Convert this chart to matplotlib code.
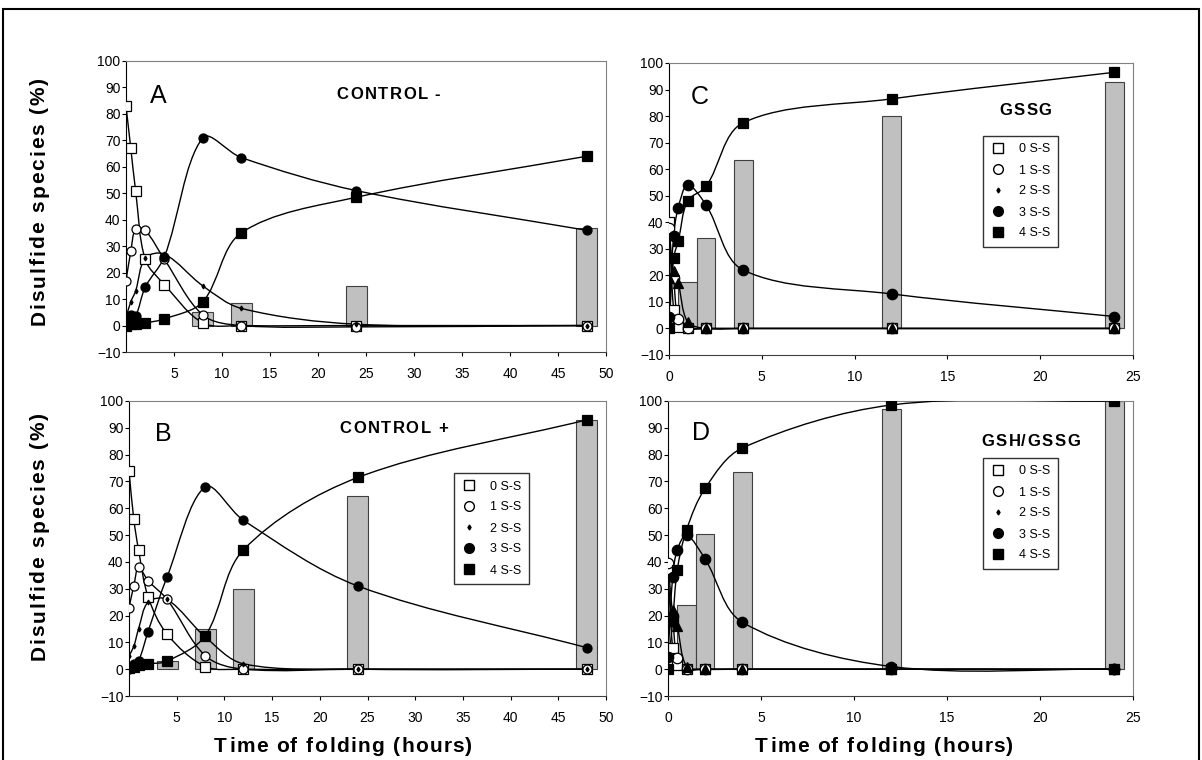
import numpy as np
import matplotlib
matplotlib.use('Agg')
import matplotlib.pyplot as plt
from matplotlib.path import Path
from matplotlib.patches import PathPatch, Rectangle
from matplotlib.lines import Line2D
from matplotlib.font_manager import FontProperties, findfont, get_font

plt.rcParams['font.family'] = ['Liberation Sans', 'DejaVu Sans']

# time points (hours)
t48 = [0, 0.5, 1, 2, 4, 8, 12, 24, 48]
t24 = [0, 0.25, 0.5, 1, 2, 4, 12, 24]

# panel A - control -
a_0ss = [83, 67, 51, 25, 15.5, 1, 0, 0, 0]
a_1ss = [17, 28, 36.5, 36, 25, 4, 0, -0.5, 0]
a_2ss = [3, 9, 13, 25.5, 27, 15, 6.5, 0.5, 0]
a_3ss = [0.5, 4, 3.5, 14.5, 26, 71, 63.5, 51, 36]
a_4ss = [0, 0.5, 0.5, 1, 2.5, 9, 35, 48.5, 64]
a_bar_t = [8, 12, 24, 48]
a_bar = [5, 8.5, 15, 37]

# panel B - control +
b_0ss = [74, 56, 44.5, 27, 13, 1, 0, 0, 0]
b_1ss = [23, 31, 38, 33, 26, 5, 0, 0, 0]
b_2ss = [5, 8.5, 15, 25, 26, 12, 2, 0, 0]
b_3ss = [0, 2, 3, 14, 34.5, 68, 55.5, 31, 8]
b_4ss = [0.5, 1, 1.5, 2, 3, 12.5, 44.5, 71.5, 93]
b_bar_t = [4, 8, 12, 24, 48]
b_bar = [3, 15, 30, 64.5, 93]

# panel C - GSSG
c_0ss = [40, 7, 0.5, 0, 0, 0, 0, 0]
c_1ss = [38, 19, 3.5, 0, 0, 0, 0, 0]
c_2ss = [19, 21.5, 17, 2.5, 0, 0, 0, 0]
c_3ss = [4.5, 35, 45.5, 54, 46.5, 22, 13, 4.5]
c_4ss = [0, 26.5, 33, 48, 53.5, 77.5, 86.5, 96.5]
c_bar_t = [1, 2, 4, 12, 24]
c_bar = [17.5, 34, 63.5, 80, 93]

# panel D - GSH/GSSG
d_0ss = [37.5, 8, 1.5, 0, 0, 0, 0, 0]
d_1ss = [39.5, 20, 4, 0, 0, 0, 0, 0]
d_2ss = [20, 22, 16, 1, 0, 0, 0, 0]
d_3ss = [4.5, 34.5, 44.5, 50, 41, 17.5, 1, 0]
d_4ss = [0, 18, 37, 52, 67.5, 82.5, 98.5, 100]
d_bar_t = [1, 2, 4, 12, 24]
d_bar = [24, 50.5, 73.5, 97, 100]

species = ['0 S-S', '1 S-S', '2 S-S', '3 S-S', '4 S-S']

W, H = 1202, 760
fig = plt.figure(figsize=(W/100, H/100), dpi=100)

def box(l, r, t, b):
    return [l/W, 1 - b/H, (r - l)/W, (b - t)/H]

# letter-spaced text, centre given in pixels (y down)
def tracked(xc, yc, s, size, track, rot=0, weight='bold'):
    prop = FontProperties(family='Liberation Sans', weight=weight, size=size)
    font = get_font(findfont(prop))
    font.set_size(size, 100)
    adv, bear = [], []
    for c in s:
        g = font.load_char(ord(c))
        adv.append(g.linearHoriAdvance / 65536)
        bear.append(g.horiBearingX / 64)
    pen = np.concatenate([[0], np.cumsum(adv)[:-1]]) + np.arange(len(s)) * track
    total = sum(adv) + (len(s) - 1) * track
    cap = size * 100 / 72 * 0.716
    for c, p, b in zip(s, pen, bear):
        if c == ' ':
            continue
        d = p + b - total / 2
        if rot == 0:
            x, y = xc + d, yc + cap / 2
        else:
            x, y = xc + cap / 2, yc - d
        fig.text(x/W, 1 - y/H, c, rotation=rot, rotation_mode='anchor', ha='left',
                 va='baseline', fontproperties=prop)

# smoothed line like excel, control points worked out in pixel space
def smooth(ax, x, y, zorder=3):
    p = ax.transData.transform(np.column_stack([x, y]).astype(float))
    n = len(p)
    verts = [p[0]]
    codes = [Path.MOVETO]
    for i in range(n - 1):
        p0 = p[i - 1] if i > 0 else p[i]
        p3 = p[i + 2] if i + 2 < n else p[i + 1]
        d01 = np.hypot(*(p[i] - p0))
        d12 = np.hypot(*(p[i + 1] - p[i]))
        d23 = np.hypot(*(p3 - p[i + 1]))
        c1 = p[i] + (p[i + 1] - p0) * d12 / max(d01 + d12, 1e-9) / 3
        c2 = p[i + 1] - (p3 - p[i]) * d12 / max(d12 + d23, 1e-9) / 3
        verts += [c1, c2, p[i + 1]]
        codes += [Path.CURVE4] * 3
    verts = ax.transData.inverted().transform(np.array(verts))
    ax.add_patch(PathPatch(Path(verts, codes), fill=False, ec='black', lw=1.0, zorder=zorder))

def panel(rect, t, series, bar_t, bars, bw, xmax, xticks, big, tri):
    ax = fig.add_axes(rect)
    ax.set_xlim(0, xmax)
    ax.set_ylim(-10, 100)
    ax.bar(bar_t, bars, width=bw, color='#c0c0c0', edgecolor='#404040', lw=0.8, zorder=1)
    ms = 7.5 if big else 6.5
    styles = [dict(marker='s', mfc='white', mec='black', ms=ms),
              dict(marker='o', mfc='white', mec='black', ms=ms),
              dict(marker='^', mfc='black', mec='black', ms=ms) if tri else
              dict(marker='d', mfc='black', mec='black', ms=2.5),
              dict(marker='o', mfc='black', mec='black', ms=ms),
              dict(marker='s', mfc='black', mec='black', ms=ms)]
    for k, (vals, st) in enumerate(zip(series, styles)):
        smooth(ax, t, vals, zorder=3)
        ax.plot(t, vals, ls='none', zorder=4 + k, mew=0.9, **st)
    ax.set_xlim(0, xmax)
    ax.set_ylim(-10, 100)
    ax.set_yticks(range(-10, 101, 10))
    ax.set_xticks(xticks)
    ax.tick_params(axis='both', labelsize=10, length=3, width=0.8, colors='black')
    ax.tick_params(axis='y', pad=1)
    ax.tick_params(axis='x', pad=8)
    for s in ['top', 'right']:
        ax.spines[s].set_color('#808080')
    ax.spines['left'].set_color('black')
    ax.spines['bottom'].set_color('#404040')
    return ax

axA = panel(box(126, 606, 61, 352), t48, [a_0ss, a_1ss, a_2ss, a_3ss, a_4ss],
            a_bar_t, a_bar, 2.2, 50, range(5, 51, 5), False, False)
axB = panel(box(129, 606, 401, 696), t48, [b_0ss, b_1ss, b_2ss, b_3ss, b_4ss],
            b_bar_t, b_bar, 2.2, 50, range(5, 51, 5), False, False)
axC = panel(box(669, 1133, 63, 355), t24, [c_0ss, c_1ss, c_2ss, c_3ss, c_4ss],
            c_bar_t, c_bar, 1.0, 25, range(0, 26, 5), True, True)
axD = panel(box(668, 1133, 401, 696), t24, [d_0ss, d_1ss, d_2ss, d_3ss, d_4ss],
            d_bar_t, d_bar, 1.0, 25, range(0, 26, 5), True, True)

# panel letters and titles
for letter, title, lx, ly, tx, ty in [
        ('A', 'CONTROL -', 158, 96, 388, 93),
        ('B', 'CONTROL +', 163, 434, 393, 427),
        ('C', 'GSSG', 700, 97, 1025, 109),
        ('D', 'GSH/GSSG', 701, 433, 1030, 440)]:
    fig.text(lx/W, 1 - ly/H, letter, fontsize=18, ha='center', va='center')
    tracked(tx, ty, title, 12, 1.4)

# legends
handles = [Line2D([], [], ls='none', marker='s', mfc='white', mec='black', ms=7),
           Line2D([], [], ls='none', marker='o', mfc='white', mec='black', ms=7),
           Line2D([], [], ls='none', marker='d', mfc='black', mec='black', ms=2.5),
           Line2D([], [], ls='none', marker='o', mfc='black', mec='black', ms=7),
           Line2D([], [], ls='none', marker='s', mfc='black', mec='black', ms=7)]
for ax, lx, ly in [(axB, 454, 473), (axC, 983, 136), (axD, 983, 458)]:
    leg = ax.legend(handles, species, loc='upper left', bbox_to_anchor=(lx/W, 1 - ly/H),
                    bbox_transform=fig.transFigure, fontsize=9, frameon=True, fancybox=False,
                    borderaxespad=0, borderpad=0.6, labelspacing=0.72, handlelength=1.2,
                    handletextpad=1.1)
    leg.get_frame().set_edgecolor('black')
    leg.get_frame().set_linewidth(1.0)
    leg.set_zorder(20)

# axis titles
for y in [202, 537]:
    tracked(37, y, 'Disulfide species (%)', 15, 2.0, rot=90)
tracked(343, 745, 'Time of folding (hours)', 15, 1.4)
tracked(884, 745, 'Time of folding (hours)', 15, 1.4)

# outer frame
fig.patches.append(Rectangle((3/W, -0.05), 1196/W, 1.05 - 9/H, transform=fig.transFigure,
                             fill=False, ec='black', lw=1.5))

fig.savefig('out.png', dpi=100)
